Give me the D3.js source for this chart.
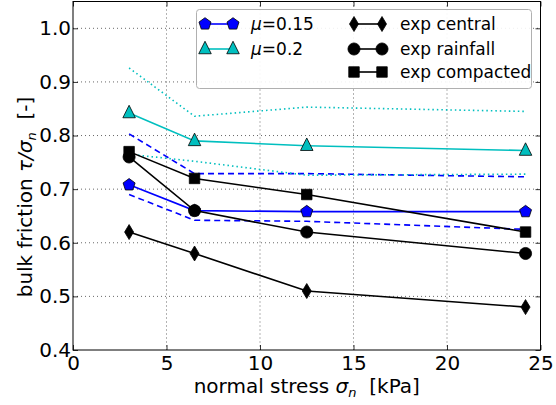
<!DOCTYPE html>
<html>
<head>
<meta charset="utf-8">
<script src="https://cdn.jsdelivr.net/npm/d3@7"></script>
<style>
  body { margin: 0; background: #fff; }
  text { font-family: "DejaVu Sans", sans-serif; white-space: pre; }
</style>
</head>
<body>
<div id="chart"></div>
<script>
// normal stress levels (kPa)
var stress = [3, 6.5, 12.5, 24.2];

// simulations
var mu015 = [0.708, 0.66, 0.658, 0.658],
    mu015Hi = [0.803, 0.729, 0.729, 0.723],
    mu015Lo = [0.690, 0.642, 0.640, 0.625],
    mu02 = [0.842, 0.790, 0.781, 0.772],
    mu02Hi = [0.926, 0.836, 0.853, 0.845],
    mu02Lo = [0.765, 0.752, 0.726, 0.728];

// experiments
var expCentral = [0.62, 0.58, 0.51, 0.48],
    expRainfall = [0.76, 0.66, 0.62, 0.58],
    expCompacted = [0.77, 0.72, 0.69, 0.62];

var xTicks = [0, 5, 10, 15, 20, 25],
    yTicks = [0.4, 0.5, 0.6, 0.7, 0.8, 0.9, 1.0];

var width = 556, height = 405,
    margin = {top: 1.5, right: 15.5, bottom: 55, left: 73},
    w = width - margin.left - margin.right,
    h = height - margin.top - margin.bottom;

var blue = "#0000ff", cyan = "#00bfbf";

var x = d3.scaleLinear().domain([0, 25]).range([0, w]),
    y = d3.scaleLinear().domain([0.4, 1.05]).range([h, 0]);

var svg = d3.select("#chart").append("svg")
    .attr("width", width)
    .attr("height", height);

var g = svg.append("g")
    .attr("transform", "translate(" + margin.left + "," + margin.top + ")");

// dotted grid
g.append("g").selectAll("line").data(xTicks.slice(1, -1)).enter().append("line")
    .attr("x1", function(d){ return x(d); }).attr("x2", function(d){ return x(d); })
    .attr("y1", 0).attr("y2", h)
    .attr("stroke", "#000").attr("stroke-width", 0.6).attr("stroke-dasharray", "1,3");
g.append("g").selectAll("line").data(yTicks.slice(1)).enter().append("line")
    .attr("y1", function(d){ return y(d); }).attr("y2", function(d){ return y(d); })
    .attr("x1", 0).attr("x2", w)
    .attr("stroke", "#000").attr("stroke-width", 0.6).attr("stroke-dasharray", "1,3");

var line = d3.line()
    .x(function(d){ return x(d[0]); })
    .y(function(d){ return y(d[1]); });

function pairs(vals){ return vals.map(function(v, i){ return [stress[i], v]; }); }

// simulation envelopes
[[mu015Hi, blue, "6,4"], [mu015Lo, blue, "6,4"],
 [mu02Hi, cyan, "1.5,3"], [mu02Lo, cyan, "1.5,3"]].forEach(function(s){
    g.append("path").datum(pairs(s[0]))
        .attr("d", line).attr("fill", "none")
        .attr("stroke", s[1]).attr("stroke-width", 1.6)
        .attr("stroke-dasharray", s[2]);
});

var series = [
    {vals: mu015, color: blue, fill: blue, sym: "pentagon", size: 95},
    {vals: mu02, color: cyan, fill: cyan, sym: "triangle", size: 100},
    {vals: expCentral, color: "#000", fill: "#000", sym: "diamond", size: 100},
    {vals: expRainfall, color: "#000", fill: "#000", sym: "circle", size: 115},
    {vals: expCompacted, color: "#000", fill: "#000", sym: "square", size: 110}
];

function symbolPath(sym, size){
    if (sym === "pentagon") {
        var r = Math.sqrt(size / 2.38);
        var pts = d3.range(5).map(function(i){
            var a = -Math.PI / 2 + i * 2 * Math.PI / 5;
            return [r * Math.cos(a), r * Math.sin(a)];
        });
        return "M" + pts.join("L") + "Z";
    }
    if (sym === "triangle") {
        var s = Math.sqrt(size) * 1.25;
        return "M0," + (-s * 0.62) + "L" + (s / 2) + "," + (s * 0.38) + "L" + (-s / 2) + "," + (s * 0.38) + "Z";
    }
    if (sym === "diamond") {
        var dw = Math.sqrt(size) * 0.45, dh = Math.sqrt(size) * 0.75;
        return "M0," + (-dh) + "L" + dw + ",0L0," + dh + "L" + (-dw) + ",0Z";
    }
    if (sym === "circle") return d3.symbol(d3.symbolCircle, size)();
    return d3.symbol(d3.symbolSquare, size)();
}

series.forEach(function(s){
    g.append("path").datum(pairs(s.vals))
        .attr("d", line).attr("fill", "none")
        .attr("stroke", s.color).attr("stroke-width", 1.6);
    g.append("g").selectAll("path").data(pairs(s.vals)).enter().append("path")
        .attr("transform", function(d){ return "translate(" + x(d[0]) + "," + y(d[1]) + ")"; })
        .attr("d", symbolPath(s.sym, s.size))
        .attr("fill", s.fill).attr("stroke", "#000").attr("stroke-width", 0.8);
});

// axes with inward ticks on all four sides
var xAxis = d3.axisBottom(x).tickValues(xTicks).tickFormat(d3.format("d")).tickSizeInner(-5).tickSizeOuter(0).tickPadding(6),
    yAxis = d3.axisLeft(y).tickValues(yTicks).tickFormat(d3.format(".1f")).tickSizeInner(-5).tickSizeOuter(0).tickPadding(2);

var gx = g.append("g").attr("transform", "translate(0," + h + ")").call(xAxis);
var gy = g.append("g").call(yAxis);
g.append("g").call(d3.axisTop(x).tickValues(xTicks).tickSizeInner(-5).tickSizeOuter(0).tickFormat(""));
g.append("g").attr("transform", "translate(" + w + ",0)")
    .call(d3.axisRight(y).tickValues(yTicks).tickSizeInner(-5).tickSizeOuter(0).tickFormat(""));

g.selectAll(".domain").remove();
g.selectAll(".tick line").attr("stroke", "#000").attr("stroke-width", 0.8);
[gx, gy].forEach(function(a){
    a.selectAll("text").attr("font-size", 20).attr("fill", "#000")
        .style("font-family", "DejaVu Sans");
});

g.append("rect").attr("width", w).attr("height", h)
    .attr("fill", "none").attr("stroke", "#000").attr("stroke-width", 1);

// axis labels
var xl = svg.append("text")
    .attr("x", margin.left + w / 2).attr("y", 393)
    .attr("text-anchor", "middle").attr("font-size", 20);
xl.append("tspan").text("normal stress ");
xl.append("tspan").attr("font-style", "italic").text("σ");
xl.append("tspan").attr("font-style", "italic").attr("font-size", 13).attr("dy", 4).text("n");
xl.append("tspan").attr("dy", -4).text("  [kPa]");

var yl = svg.append("text")
    .attr("transform", "translate(32,197) rotate(-90)")
    .attr("text-anchor", "middle").attr("font-size", 20);
yl.append("tspan").text("bulk friction ");
yl.append("tspan").attr("font-style", "italic").text("τ/σ");
yl.append("tspan").attr("font-style", "italic").attr("font-size", 13).attr("dy", 4).text("n");
yl.append("tspan").attr("dy", -4).text("  [-]");

// legend
var legend = svg.append("g");
legend.append("rect")
    .attr("x", 196.5).attr("y", 9.5).attr("width", 335).attr("height", 79)
    .attr("rx", 3).attr("fill", "#fff").attr("fill-opacity", 0.9)
    .attr("stroke", "#b0b0b0").attr("stroke-width", 1);

var legendItems = [
    {s: series[0], x: 205, y: 24, label: [["μ", true], ["=0.15", false]]},
    {s: series[1], x: 205, y: 49, label: [["μ", true], ["=0.2", false]]},
    {s: series[2], x: 354, y: 24, label: [["exp central", false]]},
    {s: series[3], x: 354, y: 49, label: [["exp rainfall", false]]},
    {s: series[4], x: 354, y: 72, label: [["exp compacted", false]]}
];

legendItems.forEach(function(it){
    var lg = legend.append("g");
    lg.append("line").attr("x1", it.x).attr("x2", it.x + 28)
        .attr("y1", it.y).attr("y2", it.y)
        .attr("stroke", it.s.color).attr("stroke-width", 1.6);
    [it.x, it.x + 28].forEach(function(px){
        lg.append("path").attr("transform", "translate(" + px + "," + it.y + ")")
            .attr("d", symbolPath(it.s.sym, it.s.size))
            .attr("fill", it.s.fill).attr("stroke", "#000").attr("stroke-width", 0.8);
    });
    var t = lg.append("text").attr("x", it.x + 46).attr("y", it.y + 6)
        .attr("font-size", 17).attr("fill", "#000");
    it.label.forEach(function(p){
        t.append("tspan").attr("font-style", p[1] ? "italic" : null).text(p[0]);
    });
});
</script>
</body>
</html>
